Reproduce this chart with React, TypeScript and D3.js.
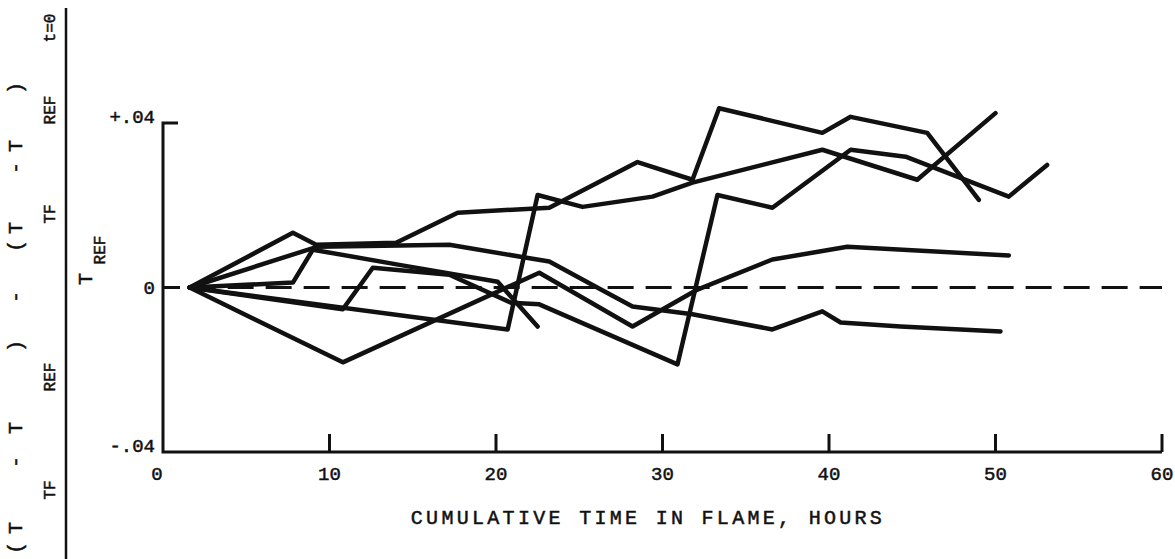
import React from "react";
import * as d3 from "d3";

// Cumulative time in flame (hours) and normalized deviation for each specimen trace
const s1t = [1.6, 7.8, 9.2, 14.0, 17.7, 23.2, 28.5, 31.8, 33.4, 39.6, 41.3, 45.9, 49.0];
const s1v = [0, 0.0133, 0.0104, 0.0109, 0.0182, 0.0194, 0.0305, 0.0262, 0.0436, 0.0376, 0.0415, 0.0376, 0.0213];

const s2t = [1.6, 20.7, 22.5, 25.2, 29.4, 31.8, 39.6, 45.3, 50.0];
const s2v = [0, -0.0102, 0.0225, 0.0196, 0.0221, 0.0255, 0.0335, 0.0262, 0.0424];

const s3t = [1.6, 10.8, 12.6, 17.2, 20.9, 22.6, 30.9, 33.3, 36.6, 41.3, 44.6, 50.8, 53.1];
const s3v = [0, -0.0053, 0.0048, 0.0031, -0.0037, -0.0041, -0.0187, 0.0225, 0.0194, 0.0335, 0.0318, 0.0221, 0.0298];

const s4t = [1.6, 10.8, 22.6, 28.2, 32.1, 36.6, 41.1, 50.8];
const s4v = [0, -0.0182, 0.0036, -0.0095, -0.0005, 0.0068, 0.0099, 0.0078];

const s5t = [1.6, 7.8, 9.0, 14.2, 20.1, 22.5];
const s5v = [0, 0.0012, 0.0092, 0.0055, 0.0014, -0.0095];

const s6t = [1.6, 9.25, 17.2, 23.2, 26.3, 28.2, 31.8, 36.6, 39.6, 40.7, 44.3, 50.3];
const s6v = [0, 0.0099, 0.0104, 0.0063, -0.0005, -0.0046, -0.0065, -0.0102, -0.0058, -0.0085, -0.0095, -0.0107];

const seriesT = [s1t, s2t, s3t, s4t, s5t, s6t];
const seriesV = [s1v, s2v, s3v, s4v, s5v, s6v];

const xTicks = [0, 10, 20, 30, 40, 50, 60];
const xTickLabels = ["0", "10", "20", "30", "40", "50", "60"];
const yTicks = [0.04, 0, -0.04];
const yTickLabels = ["+.04", "0", "-.04"];
const refStart = 1.6;

const FONT = "'Liberation Mono', 'DejaVu Sans Mono', monospace";
const INK = "#111";

export default function App() {
  const W = 1175;
  const H = 559;
  const x = d3.scaleLinear().domain([0, 60]).range([163, 1162]);
  const y = d3.scaleLinear().domain([-0.04, 0.04]).range([452, 123]);

  const line = d3
    .line<[number, number]>()
    .x((d) => x(d[0]))
    .y((d) => y(d[1]));

  const paths = seriesT.map((ts, i) =>
    line(ts.map((t, j) => [t, seriesV[i][j]] as [number, number]))
  );

  const x0 = x(0);
  const yTop = y(0.04);
  const yBot = y(-0.04);

  const textStyle = { stroke: INK, strokeWidth: 0.5 } as React.CSSProperties;

  // rotated numerator pieces: [text, center y, isSub]
  const numer: [string, number, boolean][] = [
    ["(", 548, false],
    ["T", 528, false],
    ["TF", 490, true],
    ["-", 462, false],
    ["T", 428, false],
    ["REF", 377, true],
    [")", 346, false],
    ["-", 297, false],
    ["(", 246, false],
    ["T", 228, false],
    ["TF", 214, true],
    ["-", 168, false],
    ["T", 146, false],
    ["REF", 110, true],
    [")", 88, false],
    ["t=0", 28, true],
  ];

  return (
    <svg width={W} height={H} style={{ display: "block", position: "absolute", left: 0, top: 0, background: "#fff" }}>
      <rect x={0} y={0} width={W} height={H} fill="#fff" />
      {/* zero reference dashed line */}
      <line
        x1={x(refStart)}
        x2={x(60)}
        y1={y(0)}
        y2={y(0)}
        stroke={INK}
        strokeWidth={3}
        strokeDasharray="26 12"
      />
      {/* axes */}
      <path
        d={`M${x0 + 15},${yTop} H${x0} V${yBot} H${x(60)}`}
        fill="none"
        stroke={INK}
        strokeWidth={3}
      />
      <line x1={x0} x2={x0 + 17} y1={y(0)} y2={y(0)} stroke={INK} strokeWidth={3} />
      {xTicks.slice(1).map((t) => (
        <line key={t} x1={x(t)} x2={x(t)} y1={yBot} y2={yBot - 18} stroke={INK} strokeWidth={3} />
      ))}
      {xTicks.map((t, i) => (
        <text
          key={"xl" + t}
          x={x(t) - (i === 0 ? 6 : 0)}
          y={yBot + 28}
          textAnchor="middle"
          fontFamily={FONT}
          fontSize={19}
          fill={INK}
          style={textStyle}
        >
          {xTickLabels[i]}
        </text>
      ))}
      {yTicks.map((v, i) => (
        <text
          key={"yl" + i}
          x={x0 - 8}
          y={y(v) + (v === 0 ? 6 : 0)}
          textAnchor="end"
          fontFamily={FONT}
          fontSize={19}
          fill={INK}
          style={textStyle}
        >
          {yTickLabels[i]}
        </text>
      ))}
      {/* data traces */}
      {paths.map((d, i) => (
        <path
          key={"s" + i}
          d={d || ""}
          fill="none"
          stroke={INK}
          strokeWidth={4.5}
          strokeLinejoin="round"
          strokeLinecap="round"
        />
      ))}
      {/* x title */}
      <text
        x={648}
        y={524}
        textAnchor="middle"
        fontFamily={FONT}
        fontSize={20}
        letterSpacing={3.3}
        fill={INK}
        style={textStyle}
      >
        CUMULATIVE TIME IN FLAME, HOURS
      </text>
      {/* y label: fraction */}
      {numer.map(([s, cy, sub], i) => (
        <text
          key={"n" + i}
          transform={`translate(${sub ? 55 : 22},${cy}) rotate(-90)`}
          textAnchor="middle"
          fontFamily={FONT}
          fontSize={sub ? 16 : 20}
          fill={INK}
          style={textStyle}
        >
          {s}
        </text>
      ))}
      <line x1={66} x2={66} y1={8} y2={H} stroke={INK} strokeWidth={2.5} />
      <text
        transform={`translate(92,279) rotate(-90)`}
        textAnchor="middle"
        fontFamily={FONT}
        fontSize={20}
        fill={INK}
        style={textStyle}
      >
        T
      </text>
      <text
        transform={`translate(105,250) rotate(-90)`}
        textAnchor="middle"
        fontFamily={FONT}
        fontSize={16}
        fill={INK}
        style={textStyle}
      >
        REF
      </text>
    </svg>
  );
}
